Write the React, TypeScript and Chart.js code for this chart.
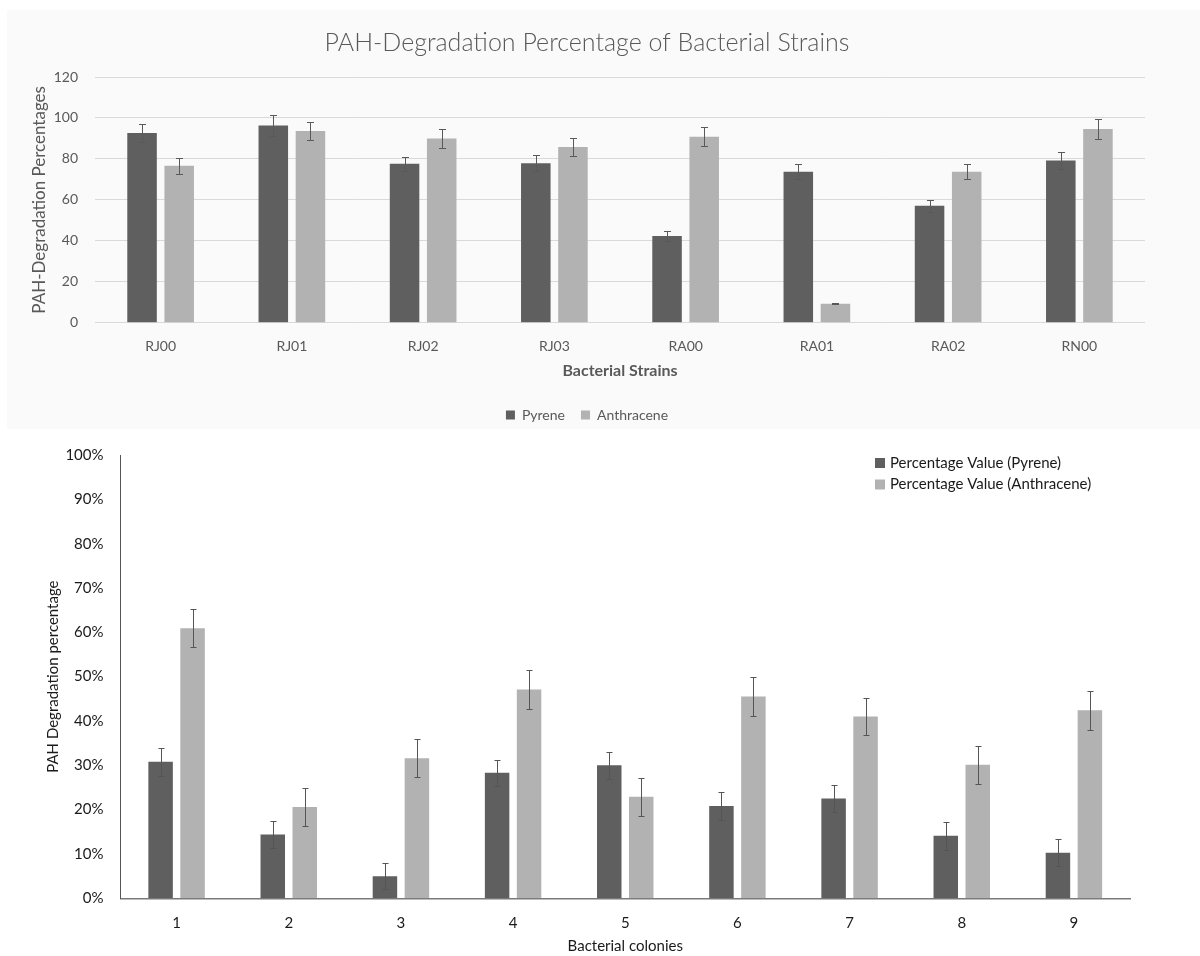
import React, { useEffect, useRef } from "react";
import { Chart, registerables } from "chart.js";

Chart.register(...registerables);

// ---------- Data: top chart ----------
const strainLabels = ["RJ00", "RJ01", "RJ02", "RJ03", "RA00", "RA01", "RA02", "RN00"];
const pyreneStrain = [92.6, 96.3, 77.6, 77.9, 42.4, 73.7, 57.1, 79.2];
const pyreneStrainErr = [4.5, 4.9, 3.4, 3.9, 2.4, 3.7, 2.8, 4.1];
const anthraceneStrain = [76.6, 93.6, 90.0, 85.8, 90.8, 9.3, 73.7, 94.6];
const anthraceneStrainErr = [3.8, 4.4, 4.8, 4.4, 4.6, 0.4, 3.7, 5.0];
const strainYTicks = [0, 20, 40, 60, 80, 100, 120];

// ---------- Data: bottom chart ----------
const colonyLabels = ["1", "2", "3", "4", "5", "6", "7", "8", "9"];
const pyreneColony = [30.8, 14.4, 5.0, 28.3, 30.0, 20.8, 22.5, 14.1, 10.3];
const pyreneColonyErr = [3.1, 3.0, 3.0, 3.0, 3.0, 3.1, 3.1, 3.2, 3.0];
const anthraceneColony = [60.9, 20.6, 31.6, 47.1, 22.9, 45.5, 41.0, 30.1, 42.4];
const anthraceneColonyErr = [4.3, 4.3, 4.3, 4.3, 4.3, 4.4, 4.2, 4.3, 4.4];
const colonyYTicks = [0, 10, 20, 30, 40, 50, 60, 70, 80, 90, 100];

const DARK = "#5f5f5f";
const LIGHT = "#b2b2b2";
const FONT = "Lato, 'Open Sans', sans-serif";

const errorBarPlugin = {
  id: "errorBars",
  afterDatasetsDraw(chart: any, _args: any, opts: any) {
    const { ctx } = chart;
    const yScale = chart.scales.y;
    const cap = opts.cap ?? 4;
    chart.data.datasets.forEach((ds: any, di: number) => {
      const meta = chart.getDatasetMeta(di);
      if (!ds.errors || meta.hidden) return;
      meta.data.forEach((bar: any, i: number) => {
        const v = ds.data[i];
        const e = ds.errors[i];
        const x = Math.round(bar.x) + 0.5;
        const yTop = Math.round(yScale.getPixelForValue(v + e)) + 0.5;
        const yBot = Math.round(yScale.getPixelForValue(v - e)) + 0.5;
        ctx.save();
        ctx.strokeStyle = opts.color || "#595959";
        ctx.lineWidth = 1;
        ctx.beginPath();
        ctx.moveTo(x, yTop);
        ctx.lineTo(x, yBot);
        ctx.moveTo(x - cap, yTop);
        ctx.lineTo(x + cap, yTop);
        ctx.moveTo(x - cap, yBot);
        ctx.lineTo(x + cap, yBot);
        ctx.stroke();
        ctx.restore();
      });
    });
  },
};

const boxLegendPlugin = {
  id: "boxLegend",
  afterDraw(chart: any, _args: any, opts: any) {
    if (!opts || !opts.display) return;
    const { ctx } = chart;
    ctx.save();
    ctx.font = `${opts.fontSize}px ${FONT}`;
    ctx.textBaseline = "middle";
    ctx.textAlign = "left";
    chart.data.datasets.forEach((ds: any, i: number) => {
      const cy = opts.y + i * opts.lineSpacing;
      ctx.fillStyle = ds.backgroundColor;
      ctx.fillRect(opts.x, cy - opts.box / 2, opts.box, opts.box);
      ctx.fillStyle = opts.color;
      ctx.fillText(ds.label, opts.x + opts.box + opts.gap, cy);
    });
    ctx.restore();
  },
};

function ChartCanvas({ width, height, makeConfig }: any) {
  const ref = useRef<HTMLCanvasElement | null>(null);
  useEffect(() => {
    if (!ref.current) return;
    const chart = new Chart(ref.current, makeConfig());
    return () => chart.destroy();
  }, []);
  return (
    <canvas
      ref={ref}
      width={width}
      height={height}
      style={{ display: "block", width: `${width}px`, height: `${height}px` }}
    />
  );
}

function topConfig(): any {
  const grey = "#595959";
  return {
    type: "bar",
    data: {
      labels: strainLabels,
      datasets: [
        { label: "Pyrene", data: pyreneStrain, errors: pyreneStrainErr, backgroundColor: DARK },
        { label: "Anthracene", data: anthraceneStrain, errors: anthraceneStrainErr, backgroundColor: LIGHT },
      ],
    },
    plugins: [errorBarPlugin],
    options: {
      responsive: false,
      animation: false,
      devicePixelRatio: 1,
      layout: { padding: { left: 22, right: 22, top: 0, bottom: -3 } },
      datasets: { bar: { categoryPercentage: 0.566, barPercentage: 0.795 } },
      plugins: {
        title: {
          display: true,
          text: "PAH-Degradation Percentage of Bacterial Strains",
          color: grey,
          font: { family: FONT, size: 25, weight: "300" },
          padding: { top: 18, bottom: 19 },
        },
        legend: {
          display: true,
          position: "bottom",
          labels: {
            color: grey,
            boxWidth: 9,
            boxHeight: 9,
            padding: 16,
            font: { family: FONT, size: 14 },
          },
        },
        tooltip: { enabled: false },
        errorBars: { color: "#595959", cap: 3.5 },
      },
      scales: {
        x: {
          type: "category",
          grid: { display: false },
          border: { display: false },
          ticks: { color: grey, padding: 7, font: { family: FONT, size: 14 } },
          title: {
            display: true,
            text: "Bacterial Strains",
            color: grey,
            font: { family: FONT, size: 16, weight: "bold" },
            padding: { top: 0, bottom: 12 },
          },
          afterFit: (s: any) => {
            s.height = 69.3;
          },
        },
        y: {
          min: 0,
          max: 120,
          afterBuildTicks: (s: any) => {
            s.ticks = strainYTicks.map((v) => ({ value: v }));
          },
          grid: { color: "#d9d9d9", drawTicks: false, lineWidth: 1 },
          border: { display: false },
          ticks: { color: grey, padding: 17, font: { family: FONT, size: 14 } },
          title: {
            display: true,
            text: "PAH-Degradation Percentages",
            color: grey,
            font: { family: FONT, size: 17 },
            padding: { top: 0, bottom: 0 },
          },
          afterFit: (s: any) => {
            s.width = 66;
          },
        },
      },
    },
  };
}

function bottomConfig(): any {
  const ink = "#1a1a1a";
  return {
    type: "bar",
    data: {
      labels: colonyLabels,
      datasets: [
        {
          label: "Percentage Value (Pyrene)",
          data: pyreneColony,
          errors: pyreneColonyErr,
          backgroundColor: DARK,
        },
        {
          label: "Percentage Value (Anthracene)",
          data: anthraceneColony,
          errors: anthraceneColonyErr,
          backgroundColor: LIGHT,
        },
      ],
    },
    plugins: [errorBarPlugin, boxLegendPlugin],
    options: {
      responsive: false,
      animation: false,
      devicePixelRatio: 1,
      layout: { padding: { left: 0, right: 70, top: 15, bottom: 0 } },
      datasets: { bar: { categoryPercentage: 0.57, barPercentage: 0.766 } },
      plugins: {
        title: { display: false },
        legend: { display: false },
        tooltip: { enabled: false },
        errorBars: { color: "#555555", cap: 3 },
        boxLegend: {
          display: true,
          x: 875,
          y: 34,
          lineSpacing: 21.5,
          box: 10,
          gap: 5,
          fontSize: 15,
          color: ink,
        },
      },
      scales: {
        x: {
          type: "category",
          grid: { display: false, drawTicks: false },
          border: { display: true, color: "#7a7a7a", width: 1.5 },
          ticks: { color: ink, padding: 16, font: { family: FONT, size: 15 } },
          title: {
            display: true,
            text: "Bacterial colonies",
            color: ink,
            font: { family: FONT, size: 15 },
            padding: { top: 0, bottom: 1 },
          },
          afterFit: (s: any) => {
            s.height = 57.7;
          },
        },
        y: {
          min: 0,
          max: 100,
          afterBuildTicks: (s: any) => {
            s.ticks = colonyYTicks.map((v) => ({ value: v }));
          },
          grid: { display: false, drawTicks: false },
          border: { display: true, color: "#555555", width: 1 },
          ticks: {
            color: ink,
            padding: 17,
            font: { family: FONT, size: 15 },
            callback: (v: any) => `${v}%`,
          },
          title: {
            display: true,
            text: "PAH Degradation percentage",
            color: ink,
            font: { family: FONT, size: 15 },
            padding: { top: 44.6, bottom: 0 },
          },
          afterFit: (s: any) => {
            s.width = 120.5;
          },
        },
      },
    },
  };
}

export default function App() {
  return (
    <div>
      <div
        style={{
          position: "absolute",
          left: 7,
          top: 10,
          width: 1193,
          height: 419,
          background: "#fafafa",
        }}
      >
        <ChartCanvas width={1160} height={419} makeConfig={topConfig} />
      </div>
      <div
        style={{
          position: "absolute",
          left: 0,
          top: 429,
          width: 1200,
          height: 527,
          background: "#ffffff",
        }}
      >
        <ChartCanvas width={1200} height={527} makeConfig={bottomConfig} />
      </div>
    </div>
  );
}
